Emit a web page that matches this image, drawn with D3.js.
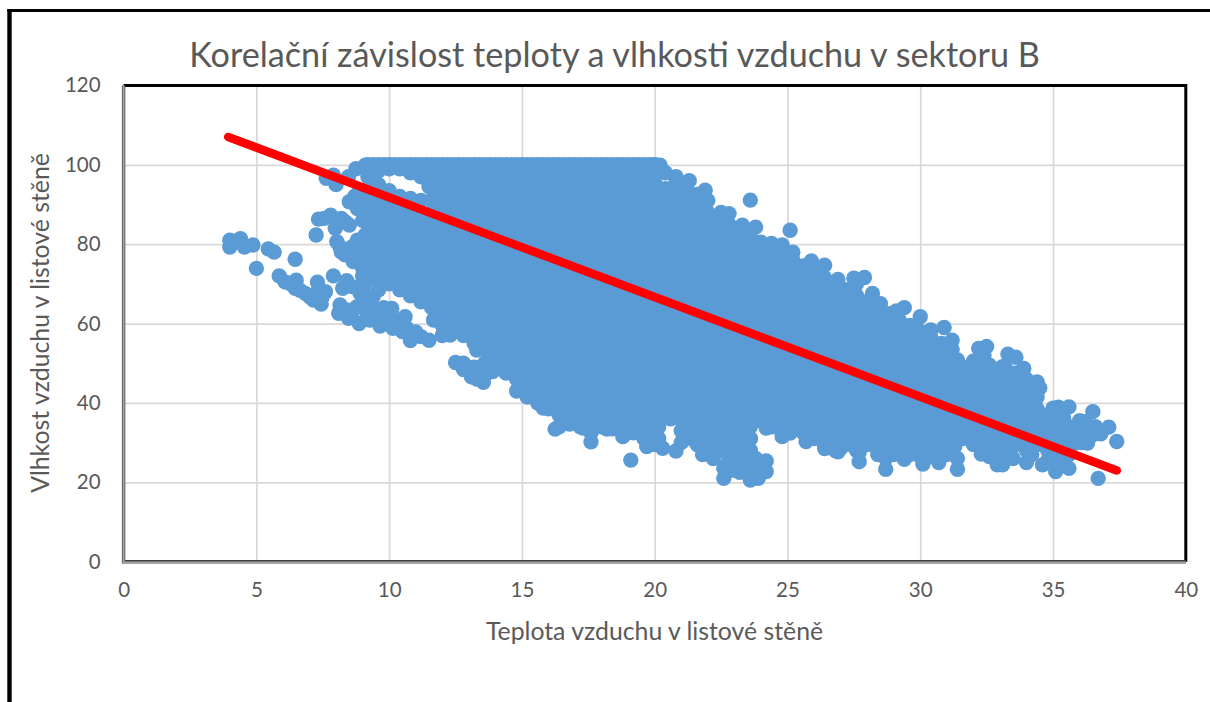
<!DOCTYPE html>
<html>
<head>
<meta charset="utf-8">
<script src="https://cdn.jsdelivr.net/npm/d3@7"></script>
<style>
  html, body { margin: 0; background: #fff; }
  svg { display: block; }
  text { font-family: Lato, "Open Sans", sans-serif; fill: #595959; }
  .tick text { font-size: 20.5px; }
  .domain { display: none; }
  .grid line { stroke: #d9d9d9; stroke-width: 1.7; }
  .axis line { display: none; }
</style>
</head>
<body>
<svg id="chart" width="1210" height="702"></svg>
<script>
var titleText = 'Korelační závislost teploty a vlhkosti vzduchu v sektoru B';
var xLabel = 'Teplota vzduchu v listové stěně';
var yLabel = 'Vlhkost vzduchu v listové stěně';
var xTicks = [0, 5, 10, 15, 20, 25, 30, 35, 40];
var yTicks = [0, 20, 40, 60, 80, 100, 120];

// trend line ends
var trendTemp = [3.94, 37.4];
var trendHum = [107, 23];

// points read one by one along the edge of the cloud
var edgePoints = [
  [4,81],[4,79.3],[4.4,81.4],[4.55,79.3],[4.87,79.8],[5,73.9],[5.45,78.8],[5.67,78],[6.46,76.2],[5.86,72],
  [6.08,70.5],[6.5,70.9],[6.46,68.9],[6.84,67.6],[7.15,65.9],[7.44,64.9],[7.3,70.4],[7.6,68],[7.9,72],[8.4,70.8],
  [8.25,68.9],[8.15,64.7],[8.1,62.6],[8.47,61.3],[8.78,64.2],[8.87,60],[9.66,59.4],[10.1,63.8],[10.14,58.8],[10.5,60.9],
  [10.8,55.7],[11,57.9],[11.5,55.8],[11.67,60.9],[12.3,57.1],[12.4,60],[12.5,50.2],[13.1,46.6],[13.55,45.2],[13.9,47.9],
  [13.3,53.3],[12.8,50],[9,67],[9.3,65],[9.5,62],[8.9,69],[9.8,64],[10.5,58],[9.2,61],[8.6,63],
  [7.63,96.6],[7.9,97.4],[8,95],[8.47,97],[9.1,99.9],[8.5,90.7],[8.8,89],[7.34,86.3],[7.8,87.3],[8.2,86.5],
  [8.5,84.8],[7.97,84],[7.25,82.3],[8.03,80.6],[8.2,78],[8.6,79.3],[8.65,75.6],[9.1,82.3],[8.9,77],[8.75,99],
  [8.85,93],[9,91],[9,86],[8.8,81],[9,74],[9,72],[9,70],
  [6.27,70.1],[6.64,68.4],[7.02,66.7],[7.3,68],[7.46,66.4],[8.6,69.3],[9.03,69.3],[9.4,66.8],[8.9,67.7],
  [8.4,63.4],[9.16,62.6],[9.53,63.4],[9.28,60.9],[9.9,62.1],[9.7,60],[10.4,60.9],[10.3,59.2],[10.66,58.8],[10.9,57.1],[11.2,56.7],[10.6,61.7],
  [8.7,92],[7.55,86.5],[8,86.2],[8.35,85.6],[8.15,79.3],[8.34,77.3],[8.9,76],[8.9,78.5],
  [12.8,48.4],[13.3,46],[13.7,47.5],[13.2,49],[13.6,50],
  [35.9,30],[36.2,31.5],[36.5,33],[36,34],[36.6,34],[36.1,30],[36.5,32],
  [34.2,27],[35,26],[34.8,25.5],[35.4,25.5],[33,26.5],[32.6,26.5],[30.4,26.5],[30,26.5],[29.6,27],[31.4,26],[31.3,29],[28.7,26],[28.4,27],[27.7,27.5],
  [22.5,28],[23,28],[23.4,28],[22.6,23.5],[23,23],[23.4,23],[23.9,25],[23.3,25],[22.9,27],
  [11.5,94.5],[12,57],[12.8,57],[18.4,33.5],[17.6,30.2],[16.25,33.4],[19.1,25.6],[19.7,29],[20.3,28.6],[20.8,27.9],
  [20.15,34],[20.15,31],[20.6,36],[21,36],[21,33],[21,30],[21.8,27],[22.2,26],[22.6,21],[22.7,24.5],
  [22.8,23],[23,25],[23.2,22.5],[23.6,20.6],[23.6,22],[23.9,21],[24.2,22.7],[24.2,25.4],[23.9,23.5],[23.8,26],
  [23.6,28],[23.6,31],[24.2,33.7],[24.8,31.5],[25.1,32.4],[25.7,30.3],[26.4,28.5],[26.9,27.7],[27.7,25.2],[27,28.6],
  [28.7,23.3],[29.4,25.8],[29,27],[30.1,24.6],[30.7,25],[31,27],[31.4,23.3],[32.3,27.1],[32.9,24.4],[33.1,24.4],
  [33.5,26],[34,25],[34.6,24.4],[35.1,22.7],[35.6,23.5],[35.2,26.5],[35.6,27],[36.3,29.9],[36.7,21],[37.4,30.3],
  [36.8,32.2],[37.1,33.9],[36.5,37.8],[36.2,35.3],[35.6,39],[35.2,38.9],[35,38.7],[35.4,36.2],[34.5,43.8],[34.4,45.3],
  [33.9,48.7],[33.6,51.5],[33.3,52.3],[33.1,49.1],[32.6,49.5],[32.5,54.2],[32.2,53.7],[32.1,50.4],[31.4,50.8],[31.2,55.8],
  [30.9,59],[30.4,58.4],[30,61.7],[29.4,64],[29.1,63.2],[28.5,65],[28.2,67.6],[27.9,71.6],[27.5,71.4],[26.9,71.1],
  [26.4,74.7],[25.9,75.8],[25.2,78],[25.1,83.5],[24.8,79.8],[24.4,80.2],[23.8,84.3],[23.6,91.1],[23.3,84.8],[22.8,87.7],
  [22.5,88],[21.9,93.6],[21.3,96],[20.8,97],[20.2,99.9],[20,100],[15.8,38.7],[16.8,34.7],[17.3,33.7],[18.2,33.4]
];

// temperatures where the humidity sits at the 100 ceiling, between the columns below
var ceilingTemps = [
  9.4, 9.8, 10.2, 10.6, 11, 11.4, 11.8, 12.2, 12.6, 13, 13.4, 13.8, 14.2, 14.6, 15, 15.4, 15.8, 16.2, 16.6, 17,
  17.4, 17.8, 18.2, 18.6, 19, 19.4, 19.8
];

// rest of the cloud, read as columns of temperature and humidity
var coreTemps = [
  9.2, 9.6, 10, 10.4, 10.8, 11.2, 11.6, 12, 12.4, 12.8, 13.2, 13.6, 14, 14.4, 14.8, 15.2, 15.6, 16, 16.4, 16.8,
  17.2, 17.6, 18, 18.4, 18.8, 19.2, 19.6, 20, 20.4, 20.8, 21.2, 21.6, 22, 22.4, 22.8, 23.2, 23.6, 24, 24.4, 24.8,
  25.2, 25.6, 26, 26.4, 26.8, 27.2, 27.6, 28, 28.4, 28.8, 29.2, 29.6, 30, 30.4, 30.8, 31.2, 31.6, 32, 32.4, 32.8,
  33.2, 33.6, 34, 34.4, 34.8, 35.2, 35.6, 36
];
var coreHum = [
  [100,97,94,91,88,85,82,79,76,73,71],
  [100,98.5,95,92.5,89.5,86.5,83.5,80.5,77.5,74.5,71.5,68.5],
  [100,99,93.5,91,88,85,82,79,76,73,70],
  [100,99,92,89.5,86.5,83.5,80.5,77.5,74.5,71.5,68.5],
  [100,98,91.5,88,85,82,79,76,73,70,67],
  [100,97,91,86.5,83.5,80.5,77.5,74.5,71.5,68.5,65.5],
  [100,97,94,91,88,85,82,79,76,73,70,67,64],
  [100,98.5,95.5,92.5,89.5,86.5,83.5,80.5,77.5,74.5,71.5,68.5,65.5,62.5,59.5],
  [100,97,94,91,88,85,82,79,76,73,70,67,64,61,58],
  [100,98.5,95.5,92.5,89.5,86.5,83.5,80.5,77.5,74.5,71.5,68.5,65.5,62.5,59.5],
  [100,97,94,91,88,85,82,79,76,73,70,67,64,61,58,55],
  [100,98.5,95.5,92.5,89.5,86.5,83.5,80.5,77.5,74.5,71.5,68.5,65.5,62.5,59.5,56.5,53.5],
  [100,97,94,91,88,85,82,79,76,73,70,67,64,61,58,55,52,49],
  [100,98.5,95.5,92.5,89.5,86.5,83.5,80.5,77.5,74.5,71.5,68.5,65.5,62.5,59.5,56.5,53.5,50.5,47.5],
  [100,97,94,91,88,85,82,79,76,73,70,67,64,61,58,55,52,49,46,43],
  [100,98.5,95.5,92.5,89.5,86.5,83.5,80.5,77.5,74.5,71.5,68.5,65.5,62.5,59.5,56.5,53.5,50.5,47.5,44.5,41.5],
  [100,97,94,91,88,85,82,79,76,73,70,67,64,61,58,55,52,49,46,43,40],
  [100,98.5,95.5,92.5,89.5,86.5,83.5,80.5,77.5,74.5,71.5,68.5,65.5,62.5,59.5,56.5,53.5,50.5,47.5,44.5,41.5,38.5],
  [100,97,94,91,88,85,82,79,76,73,70,67,64,61,58,55,52,49,46,43,40,37,34],
  [100,98.5,95.5,92.5,89.5,86.5,83.5,80.5,77.5,74.5,71.5,68.5,65.5,62.5,59.5,56.5,53.5,50.5,47.5,44.5,41.5,38.5,35.5],
  [100,97,94,91,88,85,82,79,76,73,70,67,64,61,58,55,52,49,46,43,40,37,34],
  [100,98.5,95.5,92.5,89.5,86.5,83.5,80.5,77.5,74.5,71.5,68.5,65.5,62.5,59.5,56.5,53.5,50.5,47.5,44.5,41.5,38.5,35.5,32.5],
  [100,97,94,91,88,85,82,79,76,73,70,67,64,61,58,55,52,49,46,43,40,37,34],
  [100,98.5,95.5,92.5,89.5,86.5,83.5,80.5,77.5,74.5,71.5,68.5,65.5,62.5,59.5,56.5,53.5,50.5,47.5,44.5,41.5,38.5,35.5],
  [100,97,94,91,88,85,82,79,76,73,70,67,64,61,58,55,52,49,46,43,40,37,34,31.5],
  [100,98.5,95.5,92.5,89.5,86.5,83.5,80.5,77.5,74.5,71.5,68.5,65.5,62.5,59.5,56.5,53.5,50.5,47.5,44.5,41.5,38.5,35.5,32.5],
  [100,97,94,91,88,85,82,79,76,73,70,67,64,61,58,55,52,49,46,43,40,37,34,31],
  [100,98.5,95.5,92.5,89.5,86.5,83.5,80.5,77.5,74.5,71.5,68.5,65.5,62.5,59.5,56.5,53.5,50.5,47.5,44.5,41.5,38.5,35.5,32.5,29.5],
  [98,94,91,88,85,82,79,76,73,70,67,64,61,58,55,52,49,46,43,40,37],
  [95.5,92.5,89.5,86.5,83.5,80.5,77.5,74.5,71.5,68.5,65.5,62.5,59.5,56.5,53.5,50.5,47.5,44.5,41.5,38.5],
  [94,91,88,85,82,79,76,73,70,67,64,61,58,55,52,49,46,43,40,37,34,31],
  [92.5,89.5,86.5,83.5,80.5,77.5,74.5,71.5,68.5,65.5,62.5,59.5,56.5,53.5,50.5,47.5,44.5,41.5,38.5,35.5,32.5,29.5],
  [91,88,85,82,79,76,73,70,67,64,61,58,55,52,49,46,43,40,37,34,31,28],
  [86.5,83.5,80.5,77.5,74.5,71.5,68.5,65.5,62.5,59.5,56.5,53.5,50.5,47.5,44.5,41.5,38.5,35.5,32.5,29.5],
  [85,82,79,76,73,70,67,64,61,58,55,52,49,46,43,40,37,34,31,28,25],
  [83.5,80.5,77.5,74.5,71.5,68.5,65.5,62.5,59.5,56.5,53.5,50.5,47.5,44.5,41.5,38.5,35.5,32.5,29.5,26.5],
  [82,79,76,73,70,67,64,61,58,55,52,49,46,43,40,37,34,31,28,25],
  [80.5,77.5,74.5,71.5,68.5,65.5,62.5,59.5,56.5,53.5,50.5,47.5,44.5,41.5,38.5,35.5],
  [79,76,73,70,67,64,61,58,55,52,49,46,43,40,37,34],
  [77.5,74.5,71.5,68.5,65.5,62.5,59.5,56.5,53.5,50.5,47.5,44.5,41.5,38.5,35.5,32.5],
  [76,73,70,67,64,61,58,55,52,49,46,43,40,37,34],
  [74.5,71.5,68.5,65.5,62.5,59.5,56.5,53.5,50.5,47.5,44.5,41.5,38.5,35.5,32.5],
  [73,70,67,64,61,58,55,52,49,46,43,40,37,34,31],
  [71.5,68.5,65.5,62.5,59.5,56.5,53.5,50.5,47.5,44.5,41.5,38.5,35.5,32.5,29.5],
  [70,67,64,61,58,55,52,49,46,43,40,37,34,31,28],
  [68.5,65.5,62.5,59.5,56.5,53.5,50.5,47.5,44.5,41.5,38.5,35.5,32.5,29.5],
  [70,67,64,61,58,55,52,49,46,43,40,37,34,31,28],
  [65.5,62.5,59.5,56.5,53.5,50.5,47.5,44.5,41.5,38.5,35.5,32.5,29.5],
  [64,61,58,55,52,49,46,43,40,37,34,31,28],
  [62.5,59.5,56.5,53.5,50.5,47.5,44.5,41.5,38.5,35.5,32.5,29.5],
  [61,58,55,52,49,46,43,40,37,34,31,28],
  [59.5,56.5,53.5,50.5,47.5,44.5,41.5,38.5,35.5,32.5,29.5],
  [58,55,52,49,46,43,40,37,34,31,28],
  [56.5,53.5,50.5,47.5,44.5,41.5,38.5,35.5,32.5,29.5],
  [55,52,49,46,43,40,37,34,31,28],
  [53.5,50.5,47.5,44.5,41.5,38.5,35.5,32.5,29.5],
  [49,46,43,40,37,34,31],
  [50.5,47.5,44.5,41.5,38.5,35.5,32.5,29.5],
  [52,49,46,43,40,37,34,31,28],
  [47.5,44.5,41.5,38.5,35.5,32.5,29.5],
  [49,46,43,40,37,34,31,28],
  [47.5,44.5,41.5,38.5,35.5,32.5,29.5],
  [46,43,40,37,34,31,28],
  [44.5,41.5,38.5,35.5,32.5,29.5],
  [37,34,31,28],
  [35.5,32.5,29.5],
  [34,31,28],
  [35.5,32.5]
];

var width = 1210;
var height = 702;

var svg = d3.select('#chart');

var x = d3.scaleLinear().domain([0, 40]).range([123.6, 1185.8]);
var y = d3.scaleLinear().domain([0, 120]).range([561.7, 85.4]);

// outer picture frame, only top and left are in the crop
svg.append('line')
    .attr('x1', 7.3).attr('y1', 10.5)
    .attr('x2', width).attr('y2', 10.5)
    .attr('stroke', '#000')
    .attr('stroke-width', 3);
svg.append('line')
    .attr('x1', 9.5).attr('y1', 9)
    .attr('x2', 9.5).attr('y2', height)
    .attr('stroke', '#000')
    .attr('stroke-width', 4.4);

svg.append('text')
    .attr('x', 614.5)
    .attr('y', 67)
    .attr('text-anchor', 'middle')
    .style('font-size', '34.2px')
    .text(titleText);

var gridX = svg.append('g')
    .attr('class', 'grid')
    .attr('transform', 'translate(0,' + y(0) + ')')
    .call(d3.axisBottom(x).tickValues(xTicks).tickSize(y(120) - y(0)).tickFormat(''));

var gridY = svg.append('g')
    .attr('class', 'grid')
    .attr('transform', 'translate(' + x(0) + ',0)')
    .call(d3.axisLeft(y).tickValues(yTicks).tickSize(x(0) - x(40)).tickFormat(''));

svg.append('g')
    .attr('class', 'axis')
    .attr('transform', 'translate(0,' + y(0) + ')')
    .call(d3.axisBottom(x).tickValues(xTicks).tickSize(0).tickPadding(21));

svg.append('g')
    .attr('class', 'axis')
    .attr('transform', 'translate(' + x(0) + ',0)')
    .call(d3.axisLeft(y).tickValues(yTicks).tickSize(0).tickPadding(23));

// plot border: black on top and right, grey with a dark rim on left and bottom
var border = svg.append('g');
border.append('path')
    .attr('d', 'M' + x(0) + ',' + y(120) + 'H' + x(40) + 'V' + y(0))
    .attr('fill', 'none')
    .attr('stroke', '#000')
    .attr('stroke-width', 3);
border.append('path')
    .attr('d', 'M' + x(0) + ',' + y(120) + 'V' + y(0) + 'H' + x(40))
    .attr('fill', 'none')
    .attr('stroke', '#404040')
    .attr('stroke-width', 3.4);
border.append('path')
    .attr('d', 'M' + x(0) + ',' + y(120) + 'V' + (y(0) + 0.7) + 'H' + x(40))
    .attr('fill', 'none')
    .attr('stroke', '#a6a6a6')
    .attr('stroke-width', 2);

var points = edgePoints.slice();
ceilingTemps.forEach(function(t) {
  points.push([t, 100]);
});
coreTemps.forEach(function(t, i) {
  coreHum[i].forEach(function(h) {
    points.push([t, h]);
  });
});

svg.append('g')
    .selectAll('circle')
    .data(points)
    .enter()
    .append('circle')
    .attr('cx', function(d) { return x(d[0]); })
    .attr('cy', function(d) { return y(d[1]); })
    .attr('r', 7.7)
    .attr('fill', '#5b9bd5');

svg.append('line')
    .attr('x1', x(trendTemp[0]))
    .attr('y1', y(trendHum[0]))
    .attr('x2', x(trendTemp[1]))
    .attr('y2', y(trendHum[1]))
    .attr('stroke', '#ff0000')
    .attr('stroke-width', 8.6)
    .attr('stroke-linecap', 'round');

svg.append('text')
    .attr('x', 654.5)
    .attr('y', 640)
    .attr('text-anchor', 'middle')
    .style('font-size', '24.8px')
    .text(xLabel);

svg.append('text')
    .attr('transform', 'translate(49,323) rotate(-90)')
    .attr('text-anchor', 'middle')
    .style('font-size', '24.8px')
    .text(yLabel);
</script>
</body>
</html>
